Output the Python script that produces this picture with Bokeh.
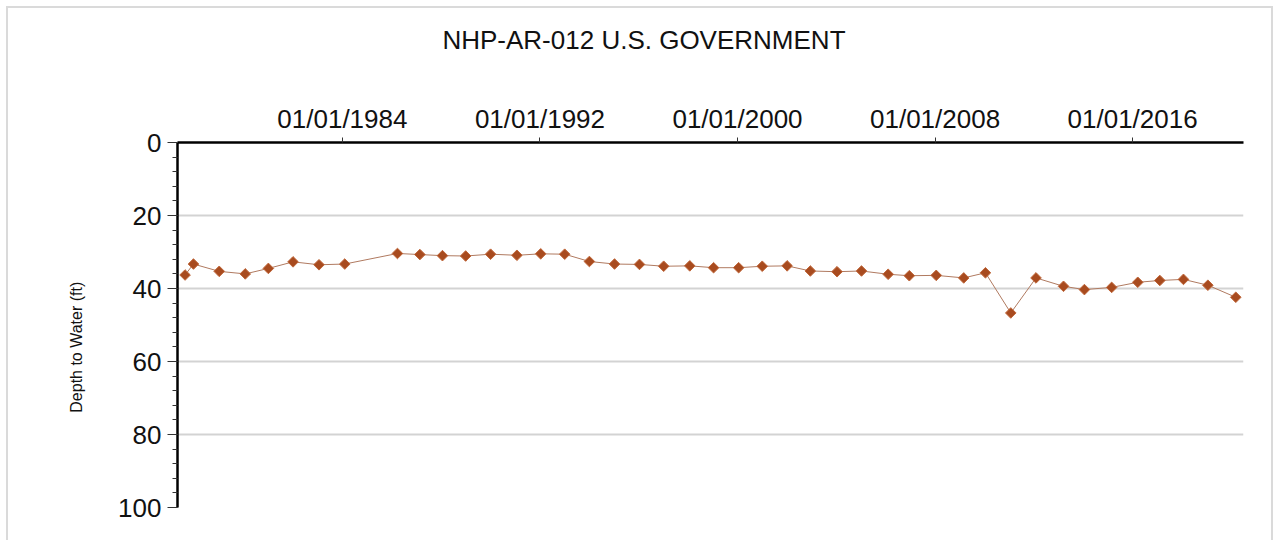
import math
from datetime import datetime
from bokeh.plotting import figure
from bokeh.layouts import column
from bokeh.models import Range1d, FixedTicker, DatetimeTickFormatter, ColumnDataSource, Div
from bokeh.embed import file_html
from bokeh.resources import INLINE

# ---- data ----
dates = ["1977-08-18", "1977-12-20", "1979-01-05", "1980-01-25", "1981-01-01",
         "1982-01-01", "1983-01-20", "1984-02-05", "1986-03-25", "1987-02-20",
         "1988-01-20", "1988-12-28", "1990-01-01", "1991-01-25", "1992-01-12",
         "1993-01-01", "1994-01-01", "1995-01-08", "1996-01-12", "1997-01-04",
         "1998-01-25", "1999-01-12", "2000-01-18", "2001-01-01", "2002-01-04",
         "2002-12-13", "2004-01-12", "2005-01-08", "2006-02-06", "2006-12-16",
         "2008-01-18", "2009-02-28", "2010-01-15", "2011-01-25", "2012-02-02",
         "2013-03-15", "2014-01-18", "2015-02-25", "2016-03-17", "2017-02-06",
         "2018-01-22", "2019-01-18", "2020-03-06"]
depth_ft = [36.3, 33.3, 35.3, 36.0, 34.5,
            32.7, 33.5, 33.3, 30.4, 30.7,
            31.0, 31.1, 30.6, 30.9, 30.5,
            30.6, 32.6, 33.3, 33.4, 33.9,
            33.8, 34.3, 34.3, 33.9, 33.8,
            35.2, 35.4, 35.2, 36.1, 36.5,
            36.4, 37.1, 35.7, 46.7, 37.1,
            39.4, 40.3, 39.7, 38.3, 37.8,
            37.5, 39.1, 42.4]
x_tick_dates = ["1984-01-01", "1992-01-01", "2000-01-01", "2008-01-01", "2016-01-01"]
y_ticks = [0, 20, 40, 60, 80, 100]
y_minor_ticks = [v for v in range(0, 101, 4)]
x_start, x_end = "1977-04-28", "2020-06-28"
title_text = "NHP-AR-012 U.S. GOVERNMENT"
y_label = "Depth to Water (ft)"

def to_dt(s):
    return datetime.strptime(s, "%Y-%m-%d")

def to_ms(s):
    return (to_dt(s) - datetime(1970, 1, 1)).total_seconds() * 1000.0

src = ColumnDataSource(dict(x=[to_dt(d) for d in dates], y=depth_ft))

FONT = "Liberation Sans"
W = 1263

title_div = Div(text=title_text, width=W, height=60, margin=(0, 0, 0, 0),
                styles={"font-family": FONT, "font-size": "26px", "line-height": "26px",
                        "color": "#111111", "text-align": "center",
                        "padding-top": "19px", "padding-left": "9px",
                        "box-sizing": "border-box", "background": "white"})

p = figure(width=W, height=472, x_axis_type="datetime", x_axis_location="above",
           output_backend="svg", toolbar_location=None,
           x_range=Range1d(to_dt(x_start), to_dt(x_end)),
           y_range=Range1d(100, 0),
           min_border_left=169, min_border_right=28, min_border_top=74, min_border_bottom=33)
p.margin = (0, 0, 0, 0)
p.outline_line_color = None
p.background_fill_color = "white"
p.border_fill_color = "white"

# top (date) axis
xa = p.xaxis[0]
xa.ticker = FixedTicker(ticks=[to_ms(d) for d in x_tick_dates])
fmt = "%m/%d/%Y"
xa.formatter = DatetimeTickFormatter(years=fmt, months=fmt, days=fmt, hours=fmt,
                                     minutes=fmt, seconds=fmt, milliseconds=fmt,
                                     microseconds=fmt, hourmin=fmt, minsec=fmt)
xa.axis_line_width = 2.5
xa.axis_line_color = "black"
xa.major_tick_out = 5
xa.major_tick_in = 0
xa.minor_tick_out = 0
xa.minor_tick_in = 0
xa.major_tick_line_color = "#333333"
xa.major_label_text_font = FONT
xa.major_label_text_font_size = "26px"
xa.major_label_text_color = "#111111"
xa.major_label_standoff = 4

# left (depth) axis
ya = p.yaxis[0]
ya.ticker = FixedTicker(ticks=y_ticks, minor_ticks=y_minor_ticks)
ya.axis_line_width = 2.5
ya.axis_line_color = "black"
ya.major_tick_out = 10
ya.major_tick_in = 0
ya.minor_tick_out = 5
ya.minor_tick_in = 0
ya.major_tick_line_color = "#333333"
ya.minor_tick_line_color = "#333333"
ya.major_label_text_font = FONT
ya.major_label_text_font_size = "26px"
ya.major_label_text_color = "#111111"
ya.major_label_standoff = 6
# trailing no-break spaces shift the centred label a little lower, as in the reference
ya.axis_label = y_label + "\u00a0" * 10
ya.axis_label_text_font = FONT
ya.axis_label_text_font_size = "16px"
ya.axis_label_text_font_style = "normal"
ya.axis_label_text_color = "#111111"
ya.axis_label_standoff = 30

p.xgrid.grid_line_color = None
p.ygrid.ticker = FixedTicker(ticks=[20, 40, 60, 80, 100])
p.ygrid.grid_line_color = "#d3d3d3"
p.ygrid.grid_line_width = 2

p.line("x", "y", source=src, line_color="#b07a60", line_width=1)
p.scatter("x", "y", source=src, marker="square", angle=math.pi / 4, size=7.5,
          fill_color="#a84b1f", line_color="#c0673a", line_width=1)

layout = column(title_div, p, spacing=0)
layout.margin = (8, 0, 0, 8)
layout.styles = {"outline": "2px solid #dadada", "background": "white"}

open("out.html", "w").write(file_html(layout, INLINE))
